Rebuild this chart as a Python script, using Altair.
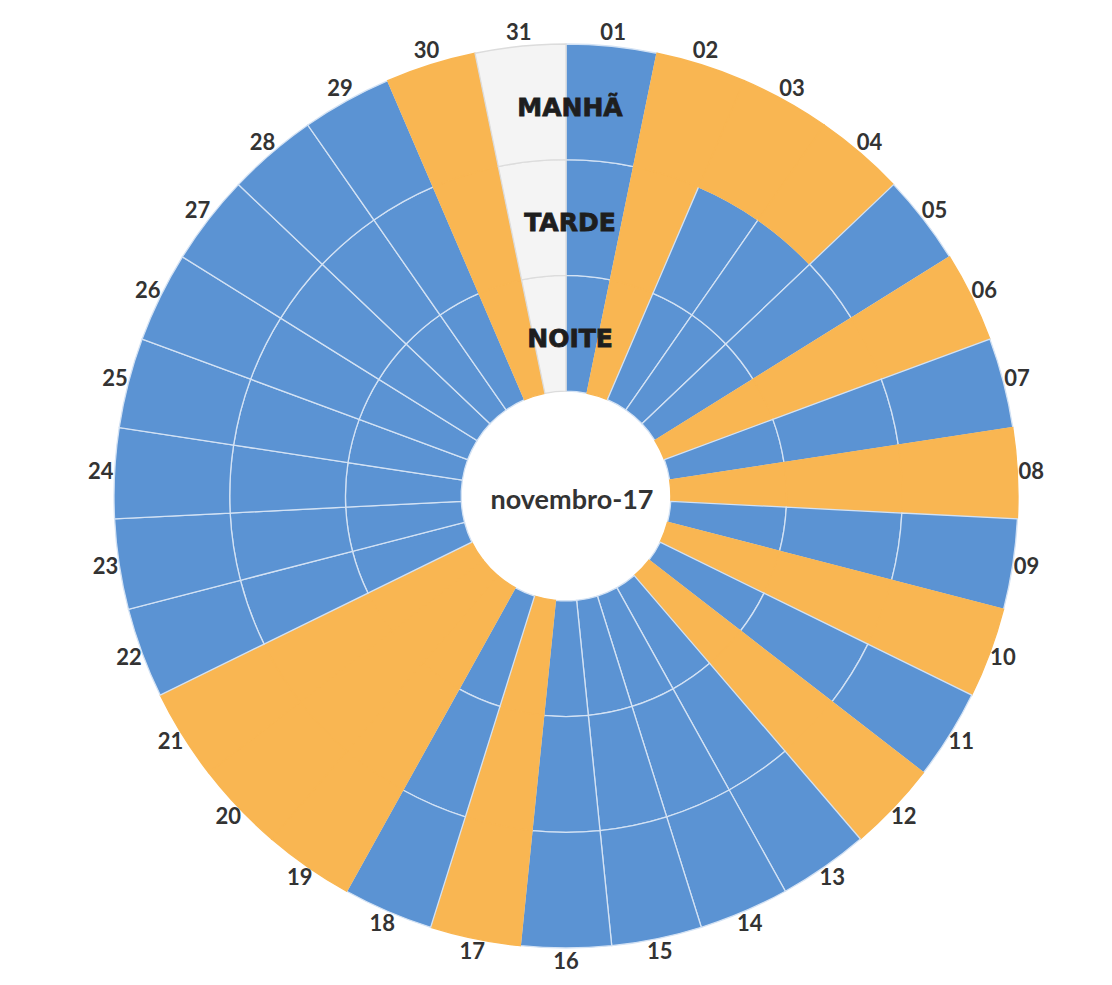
import math
import altair as alt
import pandas as pd

# ---- data -------------------------------------------------------------
dias = ["01", "02", "03", "04", "05", "06", "07", "08", "09", "10",
        "11", "12", "13", "14", "15", "16", "17", "18", "19", "20",
        "21", "22", "23", "24", "25", "26", "27", "28", "29", "30", "31"]

# A = azul, L = laranja, V = vazio
manha = ["A", "L", "L", "L", "A", "L", "A", "L", "A", "L",
         "A", "L", "A", "A", "A", "A", "L", "A", "L", "L",
         "L", "A", "A", "A", "A", "A", "A", "A", "A", "L", "V"]
tarde = ["A", "L", "A", "A", "A", "L", "A", "L", "A", "L",
         "A", "L", "A", "A", "A", "A", "L", "A", "L", "L",
         "L", "A", "A", "A", "A", "A", "A", "A", "A", "L", "V"]
noite = ["A", "L", "A", "A", "A", "L", "A", "L", "A", "L",
         "A", "L", "A", "A", "A", "A", "L", "A", "L", "L",
         "L", "A", "A", "A", "A", "A", "A", "A", "A", "L", "V"]

periodos = ["NOITE", "TARDE", "MANHÃ"]   # inner -> outer
titulo = "novembro-17"

# ---- style ------------------------------------------------------------
BLUE = "#5b93d3"
ORANGE = "#f9b652"
EMPTY = "#f4f4f4"
CX, CY = 558, 488          # centre inside the plot area
R = 452                    # outer radius in px

# ---- tables -----------------------------------------------------------
series = {"NOITE": noite, "TARDE": tarde, "MANHÃ": manha}
rows = []
for i, d in enumerate(dias):
    for k, p in enumerate(periodos):
        rows.append({"dia": d, "pos": i, "periodo": p, "anel": k,
                     "estado": series[p][i]})
cells = pd.DataFrame(rows)
labels = pd.DataFrame({"dia": dias, "pos": list(range(len(dias)))})
rings = pd.DataFrame({"periodo": periodos, "anel": list(range(len(periodos)))})
centre = pd.DataFrame({"t": [titulo]})

theta_scale = alt.Scale(domain=[0, len(dias)], range=[0, 2 * math.pi])
r_scale = alt.Scale(type="linear", domain=[-0.906, 3], range=[0, R], zero=False)

arcs = alt.Chart(cells).transform_calculate(
    t0="datum.pos", t1="datum.pos + 1",
    r0="datum.anel", r1="datum.anel + 1",
).mark_arc(strokeWidth=1.3).encode(
    theta=alt.Theta("t0:Q", scale=theta_scale, stack=None),
    theta2="t1:Q",
    radius=alt.Radius("r1:Q", scale=r_scale),
    radius2="r0:Q",
    color=alt.Color("estado:N", legend=None,
                    scale=alt.Scale(domain=["A", "L", "V"],
                                    range=[BLUE, ORANGE, EMPTY])),
    stroke=alt.Stroke("estado:N", legend=None,
                      scale=alt.Scale(domain=["A", "L", "V"],
                                      range=["#d3e2f4", ORANGE, "#dcdcdc"])),
    x=alt.value(CX), y=alt.value(CY),
)

day_text = alt.Chart(labels).transform_calculate(
    tm="datum.pos + 0.5", rl="3.12",
).mark_text(font="Lato", fontSize=22, fontWeight="bold", color="#333333").encode(
    theta=alt.Theta("tm:Q", scale=theta_scale, stack=None),
    radius=alt.Radius("rl:Q", scale=r_scale),
    text="dia:N",
    x=alt.value(CX), y=alt.value(CY),
)

ring_text = alt.Chart(rings).transform_calculate(
    tm="0", rm="datum.anel + 0.45",
).mark_text(font="DejaVu Sans", fontSize=25, fontWeight="bold", color="#1e1e1e",
            stroke="#1e1e1e", strokeWidth=0.8).encode(
    theta=alt.Theta("tm:Q", scale=theta_scale, stack=None),
    radius=alt.Radius("rm:Q", scale=r_scale),
    text="periodo:N",
    x=alt.value(CX + 4), y=alt.value(CY),
)

centre_text = alt.Chart(centre).mark_text(
    font="Lato", fontSize=27, fontWeight="bold", color="#333333"
).encode(text="t:N", x=alt.value(CX + 6), y=alt.value(CY + 5))

chart = alt.layer(arcs, day_text, ring_text, centre_text).properties(
    width=1096, height=969, padding=0,
    autosize=alt.AutoSizeParams(type="none"),
).configure_view(stroke=None)

chart.save("out.html", embed_options={"renderer": "svg", "actions": False})
